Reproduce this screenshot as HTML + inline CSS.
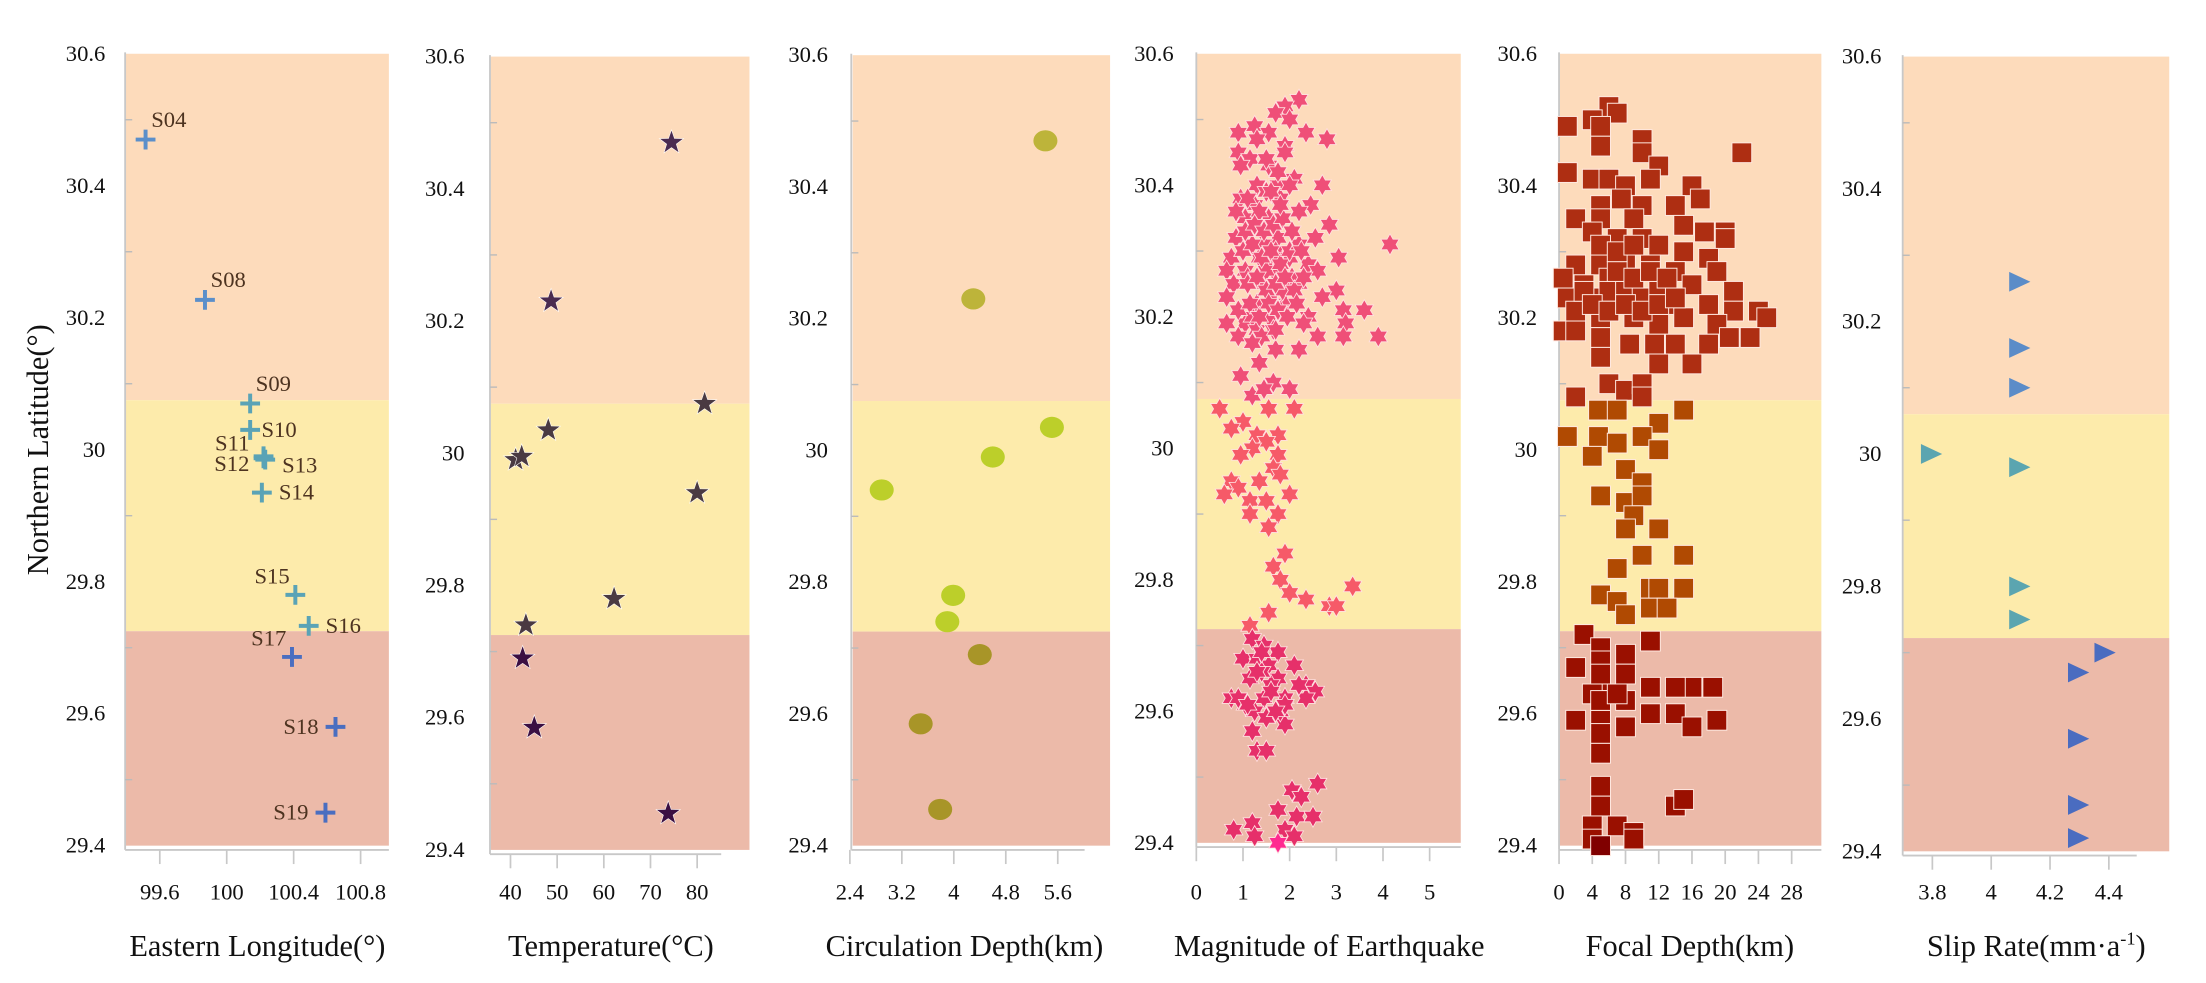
<!DOCTYPE html>
<html><head><meta charset="utf-8"><style>
html,body{margin:0;padding:0;background:#fff;}
svg{display:block;}
text{font-family:"Liberation Serif",serif;fill:#111;}
</style></head><body>
<svg id="chart" width="2206" height="983" viewBox="0 0 1560 695.1" xmlns="http://www.w3.org/2000/svg"></svg>
<script>
// ---- data ----
const yTicks = [30.6, 30.4, 30.2, 30, 29.8, 29.6, 29.4];
const stationNames = ["S04","S08","S09","S10","S11","S12","S13","S14","S15","S16","S17","S18","S19"];
const stationLon = [99.515, 99.87, 100.14, 100.14, 100.22, 100.22, 100.23, 100.21, 100.41, 100.49, 100.39, 100.65, 100.59];
const stationLat = [30.47, 30.227, 30.07, 30.03, 29.99, 29.987, 29.985, 29.935, 29.78, 29.733, 29.686, 29.58, 29.45];
const lonTicks = [99.6, 100, 100.4, 100.8];
const tempVals = [74.5, 48.7, 81.6, 48.1, 41.1, 42.4, 80, 62.2, 43.3, 42.6, 45.1, 73.8];
const tempLat = [30.47, 30.23, 30.075, 30.035, 29.99, 29.995, 29.94, 29.78, 29.74, 29.69, 29.585, 29.455];
const tempTicks = [40, 50, 60, 70, 80];
const circVals = [5.41, 4.3, 5.51, 4.6, 2.89, 3.99, 3.9, 4.4, 3.49, 3.79];
const circLat = [30.47, 30.23, 30.035, 29.99, 29.94, 29.78, 29.74, 29.69, 29.585, 29.455];
const circTicks = [2.4, 3.2, 4, 4.8, 5.6];
const magVals = [2.2,1.9,1.7,2.0,1.25,1.55,2.35,2.8,0.9,1.9,0.9,1.15,1.55,2.1,1.3,1.75,2.7,0.95,1.25,1.8,2.45,2.2,1.05,1.55,2.85,2.55,0.85,1.2,1.75,4.15,3.05,0.75,1.35,2.0,2.4,0.65,1.05,1.65,2.6,3.0,0.8,1.45,2.2,2.7,0.65,1.15,1.9,3.6,3.15,2.4,0.65,1.05,1.55,2.3,3.2,3.9,3.15,2.6,0.9,1.2,1.7,2.2,1.35,0.95,1.65,2.0,1.2,1.45,
1.4,1.6,1.3,1.5,1.7,1.4,1.2,1.8,1.5,1.6,1.3,1.9,1.1,1.7,1.45,1.25,1.55,1.85,1.35,1.65,1.0,2.05,1.5,1.75,
1.0,1.2,1.4,1.6,1.8,2.0,2.2,1.1,1.3,1.5,1.7,1.9,2.1,2.3,0.9,1.15,1.35,1.55,1.75,1.95,2.15,1.05,1.25,1.45,1.65,1.85,2.05,0.85,1.1,1.6,1.8,2.0,1.4,1.2,1.7,2.25,0.95,1.5,1.3,1.9,
0.5,1.55,2.1,1.0,0.75,1.75,1.3,1.5,1.2,0.95,1.75,1.65,0.75,1.8,0.9,1.35,0.6,1.15,1.5,2.0,1.15,1.75,1.55,1.9,1.65,1.8,3.35,2.0,2.35,2.85,3.0,1.55,
1.15,1.2,1.45,1.75,1.0,1.3,1.55,2.1,1.15,1.75,2.35,2.55,0.75,1.05,1.45,1.9,2.35,1.25,1.5,1.9,1.2,1.3,1.5,2.6,2.05,2.25,1.75,2.15,2.5,0.8,1.2,1.9,1.25,2.1,1.75,1.6,1.4,1.8,1.3,1.6,1.9,1.4,1.7,2.2,0.9,1.1];
const magLat = [30.53,30.52,30.51,30.5,30.49,30.48,30.48,30.47,30.48,30.46,30.45,30.44,30.43,30.41,30.4,30.4,30.4,30.38,30.37,30.38,30.37,30.36,30.35,30.35,30.34,30.32,30.32,30.31,30.32,30.31,30.29,30.29,30.29,30.29,30.28,30.27,30.27,30.27,30.27,30.24,30.25,30.25,30.25,30.23,30.23,30.22,30.22,30.21,30.21,30.2,30.19,30.19,30.2,30.19,30.19,30.17,30.17,30.17,30.17,30.16,30.15,30.15,30.13,30.11,30.1,30.09,30.08,30.09,
30.26,30.24,30.22,30.28,30.3,30.33,30.2,30.21,30.27,30.23,30.18,30.25,30.26,30.29,30.31,30.34,30.22,30.24,30.36,30.18,30.3,30.26,30.39,30.42,
30.3,30.31,30.29,30.3,30.28,30.3,30.31,30.25,30.26,30.24,30.25,30.26,30.24,30.26,30.21,30.22,30.2,30.22,30.21,30.2,30.22,30.33,30.34,30.33,30.34,30.35,30.33,30.36,30.38,30.39,30.37,30.4,30.17,30.16,30.18,30.3,30.43,30.44,30.47,30.45,
30.06,30.06,30.06,30.04,30.03,30.02,30.02,30.01,30.0,29.99,29.99,29.97,29.95,29.96,29.94,29.95,29.93,29.92,29.92,29.93,29.9,29.9,29.88,29.84,29.82,29.8,29.79,29.78,29.77,29.76,29.76,29.75,
29.73,29.71,29.7,29.69,29.68,29.68,29.67,29.67,29.65,29.65,29.64,29.63,29.62,29.61,29.62,29.62,29.62,29.6,29.59,29.58,29.57,29.54,29.54,29.49,29.48,29.47,29.45,29.44,29.44,29.42,29.43,29.42,29.41,29.41,29.4,29.64,29.66,29.6,29.66,29.63,29.61,29.69,29.6,29.64,29.62,29.61];
const magTicks = [0, 1, 2, 3, 4, 5];
const depthVals = [6,7,4,1,5,10,5,22,10,12,1,4,6,11,8,16,14,17,5,10,7.5,2,5,9,15,20,17.5,4,7,10,20,12,15,18,2,5,8,11,14,19,0.5,3,6,9,12,16,21,1,4,7,10,13,18,24,25,21,2,5,9,12,15,19,0.5,2,5,8.5,11.5,14,18,20.5,23,5,12,16,6,8,10,2,10,
6,8,10,12,7,9,11,13,5,7,9,3,4,6,8,10,12,14,
4.75,7,15,12,1,4.75,7,10,4,8,12,10,5,8,10,9,8,12,10,15,7,11,15,12,5,7,11,13,8,
3,11,5,8,2,5,8,5,11,16,18.5,14,4,8,11,14,19,2,5,8,16,5,5,5,14,15,5,4,7,9,4,5,9,5,7,5];
const depthLat = [30.52,30.51,30.5,30.49,30.49,30.47,30.46,30.45,30.45,30.43,30.42,30.41,30.41,30.41,30.4,30.4,30.37,30.38,30.37,30.37,30.38,30.35,30.35,30.35,30.34,30.33,30.33,30.33,30.32,30.32,30.32,30.31,30.3,30.29,30.28,30.28,30.29,30.28,30.27,30.27,30.26,30.25,30.26,30.25,30.25,30.25,30.24,30.23,30.23,30.22,30.23,30.22,30.22,30.21,30.2,30.21,30.21,30.2,30.2,30.19,30.2,30.19,30.18,30.18,30.17,30.16,30.16,30.16,30.16,30.17,30.17,30.14,30.13,30.13,30.1,30.09,30.1,30.08,30.08,
30.24,30.24,30.23,30.24,30.27,30.26,30.27,30.26,30.31,30.3,30.31,30.24,30.22,30.21,30.22,30.21,30.22,30.23,
30.06,30.06,30.06,30.04,30.02,30.02,30.01,30.02,29.99,29.97,30.0,29.95,29.93,29.92,29.93,29.9,29.88,29.88,29.84,29.84,29.82,29.79,29.79,29.79,29.78,29.77,29.76,29.76,29.75,
29.72,29.71,29.7,29.69,29.67,29.68,29.66,29.65,29.64,29.64,29.64,29.64,29.63,29.62,29.6,29.6,29.59,29.59,29.59,29.58,29.58,29.57,29.54,29.49,29.46,29.47,29.46,29.43,29.43,29.42,29.41,29.4,29.41,29.62,29.63,29.66];
const depthTicks = [0, 4, 8, 12, 16, 20, 24, 28];
const slipVals = [4.09, 4.09, 4.09, 3.79, 4.09, 4.09, 4.09, 4.38, 4.29, 4.29, 4.29, 4.29];
const slipLat = [30.26, 30.16, 30.1, 30.0, 29.98, 29.8, 29.75, 29.7, 29.67, 29.57, 29.47, 29.42];
const slipTicks = [3.8, 4, 4.2, 4.4];

// ---- helpers ----
const NS = "http://www.w3.org/2000/svg";
const svg = document.getElementById("chart");
function el(tag, attrs, parent) {
  const e = document.createElementNS(NS, tag);
  for (const k in attrs) e.setAttribute(k, attrs[k]);
  (parent || svg).appendChild(e);
  return e;
}
function makeY(y0, y1) { return lat => y0 + (30.6 - lat) / 1.2 * (y1 - y0); }
function zoneOf(lat, hi, lo) { return lat > hi ? 0 : (lat > lo ? 1 : 2); }
const ZONE_COLORS = ["#fddbbb", "#fdebab", "#ecbaa9"];

function panel(cfg) {
  const Y0 = cfg.y0, Y1 = cfg.y1, ys = cfg.ys;
  const g = el("g", {});
  
  
  const hiY = ys(cfg.hi), loY = ys(cfg.lo);
  const bands = [[Y0, hiY], [hiY, loY], [loY, Y1]];
  const bandNames = ["northern-zone", "middle-zone", "southern-zone"];
  bands.forEach((b, i) => {
    const r = el("rect", {x: cfg.rx0, y: b[0], width: cfg.rx1 - cfg.rx0, height: b[1] - b[0], fill: ZONE_COLORS[i]}, g);
    
    
  });
  const ax = el("line", {x1: cfg.ax, y1: Y0 - 1, x2: cfg.ax, y2: Y1 + 3, stroke: "#c8c8c8", "stroke-width": 1.3}, g);
  
  
  const bx = el("line", {x1: cfg.ax, y1: Y1 + 3, x2: cfg.axEnd, y2: Y1 + 3, stroke: "#c8c8c8", "stroke-width": 1.3}, g);
  
  
  for (let v = 30.5; v > 29.45; v -= 0.2) {
    el("line", {x1: cfg.ax, y1: ys(v), x2: cfg.ax + 5, y2: ys(v), stroke: "#bbb", "stroke-width": 1}, g);
  }
  yTicks.forEach(t => {
    const tx = el("text", {x: cfg.ylx, y: ys(t) + 5, "text-anchor": "end", "font-size": 16}, g);
    tx.textContent = String(t);
    
    
  });
  cfg.xTicks.forEach(t => {
    const x = cfg.xs(t);
    el("line", {x1: x, y1: Y1 + 3, x2: x, y2: Y1 + 13, stroke: "#c8c8c8", "stroke-width": 1.2}, g);
    const tx = el("text", {x: x, y: 636, "text-anchor": "middle", "font-size": 16}, g);
    tx.textContent = String(t);
    
    
  });
  if (cfg.title) {
    const tt = el("text", {x: cfg.titleX, y: 676, "text-anchor": "middle", "font-size": 21.5}, g);
    tt.textContent = cfg.title;
    
    
  }
  return g;
}
function starPath(cx, cy, R, r, n) {
  let d = "";
  for (let i = 0; i < 2 * n; i++) {
    const a = -Math.PI / 2 + i * Math.PI / n;
    const rr = i % 2 ? r : R;
    d += (i ? "L" : "M") + (cx + rr * Math.cos(a)).toFixed(2) + "," + (cy + rr * Math.sin(a)).toFixed(2);
  }
  return d + "Z";
}

const yt = el("text", {x: 0, y: 0, "text-anchor": "middle", "font-size": 21.5, transform: "translate(34,318) rotate(-90)"});
yt.textContent = "Northern Latitude(°)";



// Panel 1: longitude
const y1s = makeY(38, 598);
const lonX = v => 113 + (v - 99.6) / 1.2 * 142;
const g1 = panel({name: "longitude", y0: 38, y1: 598, ys: y1s, rx0: 89, rx1: 275, ax: 88.5, axEnd: 275, ylx: 74.5, xTicks: lonTicks, xs: lonX, title: "Eastern Longitude(°)", titleX: 182, hi: 30.075, lo: 29.725});
const labelOff = [[4,-9,"start"],[4,-9,"start"],[4,-9,"start"],[8,5,"start"],[-10,-4,"end"],[-10,9,"end"],[12,9,"start"],[12,5,"start"],[-4,-8,"end"],[12,5,"start"],[-4,-8,"end"],[-12,5,"end"],[-12,5,"end"]];
const plusColors = ["#5b8fca", "#5aa3b6", "#4a6ec0"];
stationNames.forEach((nm, i) => {
  const x = lonX(stationLon[i]), y = y1s(stationLat[i]);
  const c = plusColors[zoneOf(stationLat[i], 30.076, 29.725)];
  const p = el("path", {d: `M${x-7},${y}H${x+7}M${x},${y-7}V${y+7}`, stroke: c, "stroke-width": 2.8, fill: "none"}, g1);
  
  
  const o = labelOff[i];
  const t = el("text", {x: x + o[0], y: y + o[1], "text-anchor": o[2], "font-size": 16, style: "fill:#4d3320"}, g1);
  t.textContent = nm;
  
  
});

// Panel 2: temperature
const y2s = makeY(40, 601);
const tempX = v => 361 + (v - 40) / 40 * 132;
const g2 = panel({name: "temperature", y0: 40, y1: 601, ys: y2s, rx0: 347, rx1: 530, ax: 346.5, axEnd: 510, ylx: 328.5, xTicks: tempTicks, xs: tempX, title: "Temperature(°C)", titleX: 432, hi: 30.075, lo: 29.725});
const starColors = ["#4b2b50", "#4a3a42", "#3b0f42"];
tempVals.forEach((v, i) => {
  const s = el("path", {d: starPath(tempX(v), y2s(tempLat[i]), 9, 3.6, 5), fill: starColors[zoneOf(tempLat[i], 30.08, 29.725)], stroke: "#fff", "stroke-width": 0.4}, g2);
  
  
});

// Panel 3: circulation depth
const y3s = makeY(39, 598);
const circX = v => 601 + (v - 2.4) / 3.2 * 147;
const g3 = panel({name: "circulation-depth", y0: 39, y1: 598, ys: y3s, rx0: 603, rx1: 785, ax: 602, axEnd: 767, ylx: 585.5, xTicks: circTicks, xs: circX, title: "Circulation Depth(km)", titleX: 682, hi: 30.075, lo: 29.725});
const circColors = ["#bdb43a", "#bccf2a", "#a89528"];
circVals.forEach((v, i) => {
  const c = el("ellipse", {cx: circX(v), cy: y3s(circLat[i]), rx: 8.5, ry: 7.5, fill: circColors[zoneOf(circLat[i], 30.075, 29.725)]}, g3);
  
  
});

// Panel 4: magnitude
const y4s = makeY(38, 596);
const magX = v => 846 + v * 33;
const g4 = panel({name: "magnitude", y0: 38, y1: 596, ys: y4s, rx0: 846.5, rx1: 1033, ax: 846, axEnd: 1033, ylx: 830, xTicks: magTicks, xs: magX, title: "Magnitude of Earthquake", titleX: 940, hi: 30.075, lo: 29.725});
const magColors = ["#ef4f78", "#f65a68", "#e6306a"];
magVals.forEach((v, i) => {
  const lat = magLat[i];
  const col = lat <= 29.401 ? "#ff2a90" : magColors[zoneOf(lat, 30.075, 29.725)];
  const s = el("path", {d: starPath(magX(v), y4s(lat), 7.5, 4.3, 6), fill: col, stroke: "#ffe0e0", "stroke-width": 0.6}, g4);
  
  
});

// Panel 5: focal depth
const y5s = makeY(38, 598);
const depX = v => 1102.5 + v / 28 * 164.5;
const g5 = panel({name: "focal-depth", y0: 38, y1: 598, ys: y5s, rx0: 1103, rx1: 1288, ax: 1102.5, axEnd: 1288, ylx: 1087, xTicks: depthTicks, xs: depX, title: "Focal Depth(km)", titleX: 1195, hi: 30.075, lo: 29.725});
const sqColors = ["#ae2e12", "#b04a02", "#9a1000"];
depthVals.forEach((v, i) => {
  const lat = depthLat[i];
  const col = lat <= 29.401 ? "#800000" : sqColors[zoneOf(lat, 30.075, 29.725)];
  const s = el("rect", {x: depX(v) - 7, y: y5s(lat) - 7, width: 14, height: 14, fill: col, stroke: "#ffe8e0", "stroke-width": 0.7}, g5);
  
  
});

// Panel 6: slip rate
const y6s = makeY(40, 602);
const slipX = v => 1366.5 + (v - 3.8) / 0.6 * 124.8;
const g6 = panel({name: "slip-rate", y0: 40, y1: 602, ys: y6s, rx0: 1346, rx1: 1534, ax: 1345.5, axEnd: 1511, ylx: 1330.5, xTicks: slipTicks, xs: slipX, title: "", titleX: 1440, hi: 30.06, lo: 29.722});
const stt = el("text", {x: 1440, y: 676, "text-anchor": "middle", "font-size": 21.5}, g6);
stt.innerHTML = 'Slip Rate(mm·a<tspan dy="-8" font-size="13">-1</tspan><tspan dy="8">)</tspan>';


const triColors = ["#5b8cc8", "#5ba5b0", "#4a6cc0"];
slipVals.forEach((v, i) => {
  const x = slipX(v), y = y6s(slipLat[i]);
  const t = el("path", {d: `M${x-6},${y-7}L${x+9},${y}L${x-6},${y+7}Z`, fill: triColors[zoneOf(slipLat[i], 30.06, 29.722)]}, g6);
  
  
});
</script>
</body></html>
